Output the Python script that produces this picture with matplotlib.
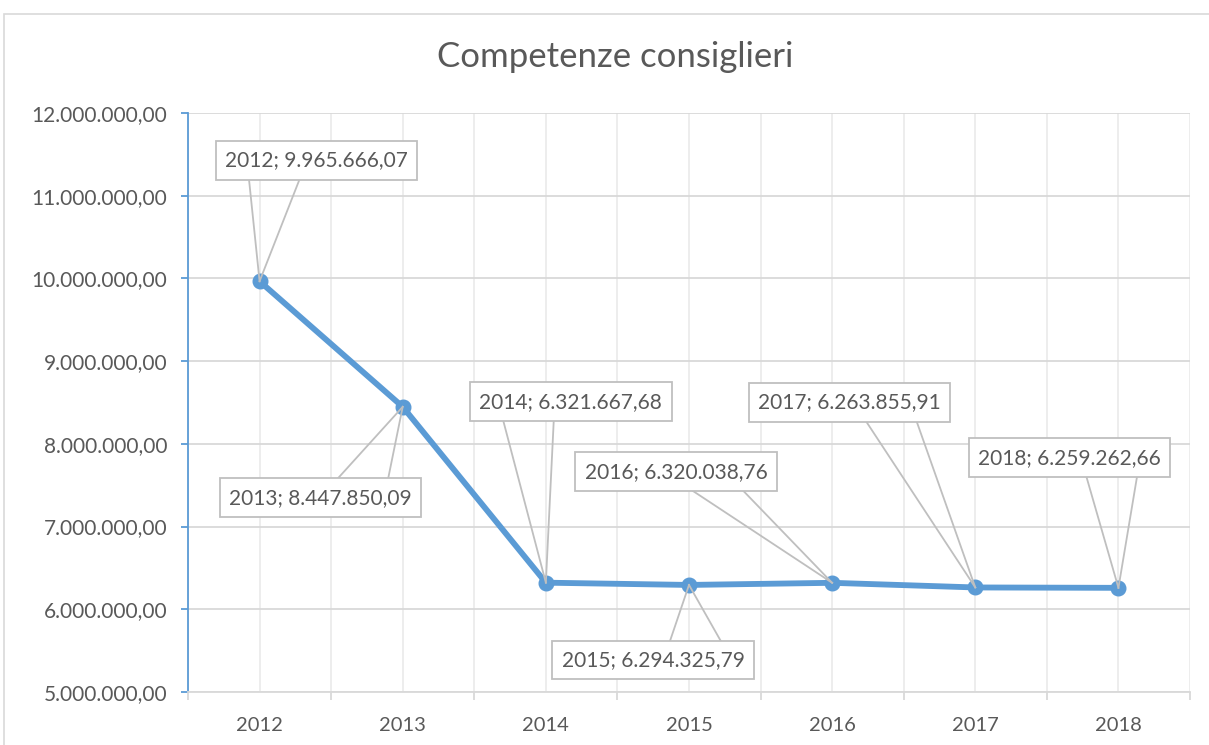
import matplotlib
matplotlib.use("Agg")
import matplotlib.pyplot as plt
from matplotlib.patches import Rectangle
from matplotlib.ticker import FuncFormatter, MultipleLocator

years = ["2012", "2013", "2014", "2015", "2016", "2017", "2018"]
values = [9965666.07, 8447850.09, 6321667.68, 6294325.79,
          6320038.76, 6263855.91, 6259262.66]

# label box centre offsets from each point, in pixels (x right, y up)
label_offsets = [(57, 121), (-82, -91), (25, 181), (-36, -75),
                 (-156, 111), (-126, 185), (-49, 130)]

BLUE = "#5b9bd5"
TEXT = "#595959"
GRID = "#d9d9d9"
VGRID = "#ececec"
LEADER = "#bfbfbf"

plt.rcParams["font.family"] = ["Lato", "DejaVu Sans"]


def it_fmt(v):
    s = f"{v:,.2f}"
    return s.replace(",", "X").replace(".", ",").replace("X", ".")


fig = plt.figure(figsize=(12.09, 7.45), dpi=100)
fig.patches.append(Rectangle((4 / 1209, -0.1), 2, 1 - 14 / 745 + 0.1,
                             transform=fig.transFigure, fill=False,
                             edgecolor=GRID, linewidth=1.2))
ax = fig.add_axes([188 / 1209, 1 - 692 / 745, 1002 / 1209, 579 / 745])

x = list(range(len(years)))
ax.plot(x, values, color=BLUE, linewidth=4.2, marker="o", markersize=10.5,
        markeredgecolor=BLUE, zorder=3, solid_capstyle="round")

ax.set_xlim(-0.5, len(years) - 0.5)
ax.set_ylim(5e6, 12e6)
ax.yaxis.set_major_locator(MultipleLocator(1e6))
ax.yaxis.set_major_formatter(FuncFormatter(lambda v, p: it_fmt(v)))
ax.set_xticks(x)
ax.set_xticklabels(years)
ax.set_xticks([i - 0.5 for i in range(len(years) + 1)], minor=True)

ax.grid(axis="y", which="major", color=GRID, linewidth=1.3, zorder=0)
ax.grid(axis="x", which="both", color=VGRID, linewidth=1.3, zorder=0)
ax.set_axisbelow(True)

for s in ("top", "right"):
    ax.spines[s].set_visible(False)
ax.spines["left"].set_color(BLUE)
ax.spines["left"].set_linewidth(1.3)
ax.spines["bottom"].set_color(GRID)
ax.spines["bottom"].set_linewidth(1.3)

ax.tick_params(axis="y", colors=BLUE, labelcolor=TEXT, length=5, width=1.3,
               pad=10, labelsize=15)
ax.tick_params(axis="x", which="major", length=0, labelcolor=TEXT,
               labelsize=14.5, pad=18)
ax.tick_params(axis="x", which="minor", length=6, width=1.3, color=GRID)

fig.text(615 / 1209, 1 - 57 / 745, "Competenze consiglieri", ha="center",
         va="center", fontsize=25, color=TEXT)

texts = []
for xi, yr, v, (dx, dy) in zip(x, years, values, label_offsets):
    t = ax.annotate(f"{yr}; {it_fmt(v)}", (xi, v), xytext=(dx, dy),
                    textcoords="offset pixels", ha="center", va="center",
                    fontsize=15, color=TEXT, zorder=6,
                    bbox=dict(boxstyle="square,pad=0.45", facecolor="white",
                              edgecolor=LEADER, linewidth=1.3))
    texts.append(t)

fig.canvas.draw()
inv = ax.transData.inverted()
for t, xi, v in zip(texts, x, values):
    bb = t.get_bbox_patch().get_window_extent()
    px, py = ax.transData.transform((xi, v))
    cx = (bb.x0 + bb.x1) / 2
    if px < cx:
        fr = (0.165, 0.415)
    else:
        fr = (0.585, 0.835)
    ey = bb.y0 if py < bb.y0 else bb.y1
    for f in fr:
        ex = bb.x0 + f * bb.width
        p0 = inv.transform((ex, ey))
        ax.plot([p0[0], xi], [p0[1], v], color=LEADER, linewidth=1.3,
                zorder=4, clip_on=False)

fig.savefig("out.png", dpi=100)
